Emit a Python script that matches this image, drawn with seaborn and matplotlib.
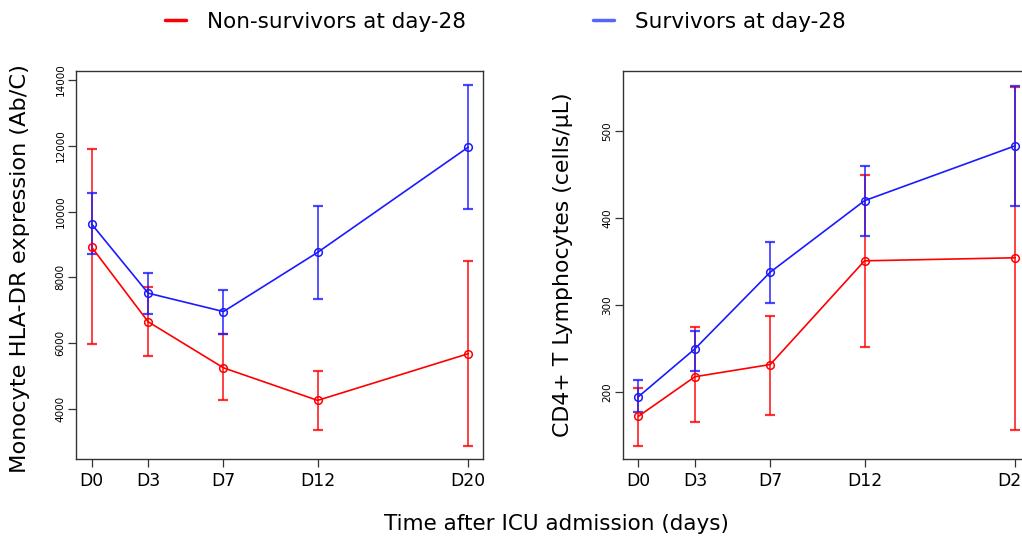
import matplotlib
matplotlib.use("Agg")
import matplotlib.pyplot as plt
import seaborn as sns
import pandas as pd
from matplotlib.lines import Line2D

days = [0, 3, 7, 12, 20]
day_labels = ["D0", "D3", "D7", "D12", "D20"]
groups = ["Non-survivors at day-28", "Survivors at day-28"]

# Monocyte HLA-DR (Ab/C)
hla_non_mean = [8920, 6650, 5250, 4260, 5680]
hla_non_low = [5970, 5600, 4270, 3370, 2860]
hla_non_high = [11890, 7700, 6270, 5150, 8490]
hla_surv_mean = [9620, 7520, 6960, 8760, 11960]
hla_surv_low = [8700, 6900, 6290, 7330, 10090]
hla_surv_high = [10560, 8140, 7630, 10170, 13840]

# CD4+ T lymphocytes (cells/uL)
cd4_non_mean = [172.5, 218, 232, 351, 354.5]
cd4_non_low = [139, 166, 174, 252, 157]
cd4_non_high = [205, 275, 288, 450, 551]
cd4_surv_mean = [195, 250, 338, 420, 483]
cd4_surv_low = [177, 225, 303, 380, 414]
cd4_surv_high = [214, 271, 373, 460, 552]

colors = {"Non-survivors at day-28": "#FF0000", "Survivors at day-28": "#1A1AFF"}

def make_df(nm, nl, nh, sm, sl, sh):
    rows = []
    for g, m, l, h in [(groups[0], nm, nl, nh), (groups[1], sm, sl, sh)]:
        for d, mv, lv, hv in zip(days, m, l, h):
            rows.append({"day": d, "group": g, "mean": mv, "low": lv, "high": hv})
    return pd.DataFrame(rows)

df_hla = make_df(hla_non_mean, hla_non_low, hla_non_high, hla_surv_mean, hla_surv_low, hla_surv_high)
df_cd4 = make_df(cd4_non_mean, cd4_non_low, cd4_non_high, cd4_surv_mean, cd4_surv_low, cd4_surv_high)

sns.set_theme(style="white")
plt.rcParams['font.family'] = ['DejaVu Sans']
plt.rcParams.update({"text.color": "black", "axes.labelcolor": "black",
                     "xtick.color": "black", "ytick.color": "black"})

fig = plt.figure(figsize=(10.22, 5.36), dpi=100)
W, H = 1022, 536
ax1 = fig.add_axes([76 / W, (H - 459) / H, (483 - 76) / W, (459 - 71) / H])
ax2 = fig.add_axes([622.7 / W, (H - 459) / H, (1030 - 622.7) / W, (459 - 71) / H])

def draw(ax, df, ylim, yticks, ylabel, ylabel_size):
    for g in groups:
        sub = df[df.group == g]
        ax.errorbar(sub["day"], sub["mean"],
                    yerr=[sub["mean"] - sub["low"], sub["high"] - sub["mean"]],
                    fmt="none", ecolor=colors[g], elinewidth=1.3, capsize=3.8,
                    capthick=1.6, alpha=0.8, zorder=2)
    n_before = len(ax.lines)
    sns.lineplot(data=df, x="day", y="mean", hue="group", palette=colors,
                 hue_order=groups, marker="o", markersize=5.5,
                 markerfacecolor="none", markeredgewidth=1.1,
                 linewidth=1.2, ax=ax, legend=False, zorder=3)
    for line in ax.lines[n_before:]:
        line.set_markeredgecolor(line.get_color())
    ax.set_xlim(-0.83, 20.78)
    ax.set_ylim(*ylim)
    ax.set_xticks(days)
    ax.set_xticklabels(day_labels, fontsize=12.4)
    ax.set_yticks(yticks)
    ax.set_yticklabels([str(t) for t in yticks], fontsize=7.5, rotation=90, va="center")
    ax.tick_params(axis="both", which="both", direction="out", length=6,
                   width=0.9, color="#333333", bottom=True, left=True)
    ax.tick_params(axis="x", pad=3)
    ax.tick_params(axis="y", pad=1.5)
    for s in ax.spines.values():
        s.set_color("#333333")
        s.set_linewidth(1.0)
        s.set_visible(True)
    ax.set_xlabel("")
    ax.set_ylabel(ylabel, fontsize=ylabel_size)

draw(ax1, df_hla, (2478, 14274), [4000, 6000, 8000, 10000, 12000, 14000],
     "Monocyte HLA-DR expression (Ab/C)", 16.2)
draw(ax2, df_cd4, (123.6, 568.8), [200, 300, 400, 500],
     "CD4+ T Lymphocytes (cells/μL)", 15.8)
ax1.yaxis.set_label_coords(-0.113, 0.492)
ax2.yaxis.set_label_coords(-0.122, 0.5)

fig.text(556 / W, 1 - 524 / H, "Time after ICU admission (days)", ha="center",
         va="center", fontsize=15.5)

handles = [Line2D([0], [0], color=colors[g], lw=2.5) for g in groups]
handles[1].set_color("#5566FF")
fig.legend(handles, groups, loc="center", bbox_to_anchor=(505 / W, 1 - 22 / H),
           ncol=2, frameon=False, fontsize=15.5, handlelength=1.0,
           handletextpad=0.95, columnspacing=5.9)

fig.savefig("out.png", dpi=100)
